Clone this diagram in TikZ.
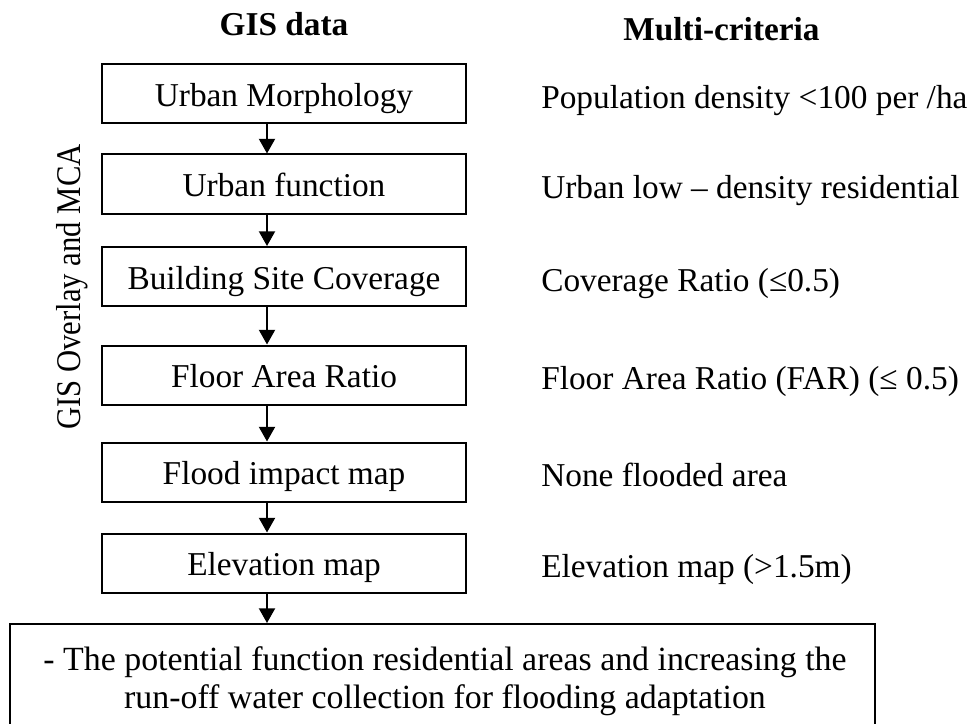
\documentclass[tikz,border=0pt]{standalone}
\usepackage{fontspec}
\setmainfont{Liberation Serif}
\newfontfamily\plainserif{Liberation Serif}
\usetikzlibrary{arrows.meta}
\begin{document}
\begin{tikzpicture}[x=0.75pt,y=-0.75pt,
  every node/.style={font=\fontsize{25pt}{28.5pt}\selectfont},
  gisbox/.style={draw, line width=1.5pt, minimum width=273pt, minimum height=44.25pt,
    inner sep=0pt, text height=21pt, text depth=2pt},
  crit/.style={anchor=west, inner sep=0pt, text height=21pt, text depth=2pt},
  head/.style={anchor=base, inner sep=0pt, font=\fontsize{25pt}{28pt}\selectfont\bfseries},
  arr/.style={line width=1.5pt, -{Triangle[length=11pt,width=12pt]}}
]
\clip (0,0) rectangle (976,724);
\fill[white] (0,0) rectangle (976,724);

\coordinate (ax) at (267,0);
\coordinate (rx) at (541,0);

\node[head] (h1) at (284,36) {GIS data};
\node[head] (h2) at (721.5,40.5) {Multi-criteria};

\node[gisbox] (b1) at (284,94) {Urban Morphology};
\node[gisbox] (b2) at (284,184) {Urban function};
\node[gisbox] (b3) at (284,276.5) {Building Site Coverage};
\node[gisbox] (b4) at (284,375) {Floor Area Ratio};
\node[gisbox] (b5) at (284,472) {Flood impact map};
\node[gisbox] (b6) at (284,563) {Elevation map};

\node[crit] (c1) at ([yshift=-1.5pt]b1.center -| rx) {Population density <100 per /ha};
\node[crit] (c2) at ([yshift=-1.5pt]b2.center -| rx) {Urban low – density residential};
\node[crit] (c3) at ([yshift=-1.5pt]b3.center -| rx) {Coverage Ratio (≤0.5)};
\node[crit] (c4) at ([yshift=-1.5pt]b4.center -| rx) {Floor Area Ratio (FAR) (≤ 0.5)};
\node[crit] (c5) at ([yshift=-1.5pt]b5.center -| rx) {None flooded area};
\node[crit] (c6) at ([yshift=-1.5pt]b6.center -| rx) {Elevation map (>1.5m)};

\node[rotate=90, anchor=base, inner sep=0pt, font=\fontsize{23pt}{28pt}\plainserif] (side) at (80,287)
  {\scalebox{1}[1.13]{GIS Overlay and MCA}};

\node[draw, line width=1.5pt, minimum width=648.75pt, minimum height=76.5pt, inner sep=0pt] (res) at (442.5,675) {};
\node[align=center, inner sep=0pt, font=\fontsize{25.4pt}{28.5pt}\selectfont] (restext) at (445,681)
  {- The potential function residential areas and increasing the\\run-off water collection for flooding adaptation};

\draw[arr] (b1.south -| ax) -- (b2.north -| ax);
\draw[arr] (b2.south -| ax) -- (b3.north -| ax);
\draw[arr] (b3.south -| ax) -- (b4.north -| ax);
\draw[arr] (b4.south -| ax) -- (b5.north -| ax);
\draw[arr] (b5.south -| ax) -- (b6.north -| ax);
\draw[arr] (b6.south -| ax) -- (res.north -| ax);
\end{tikzpicture}
\end{document}
